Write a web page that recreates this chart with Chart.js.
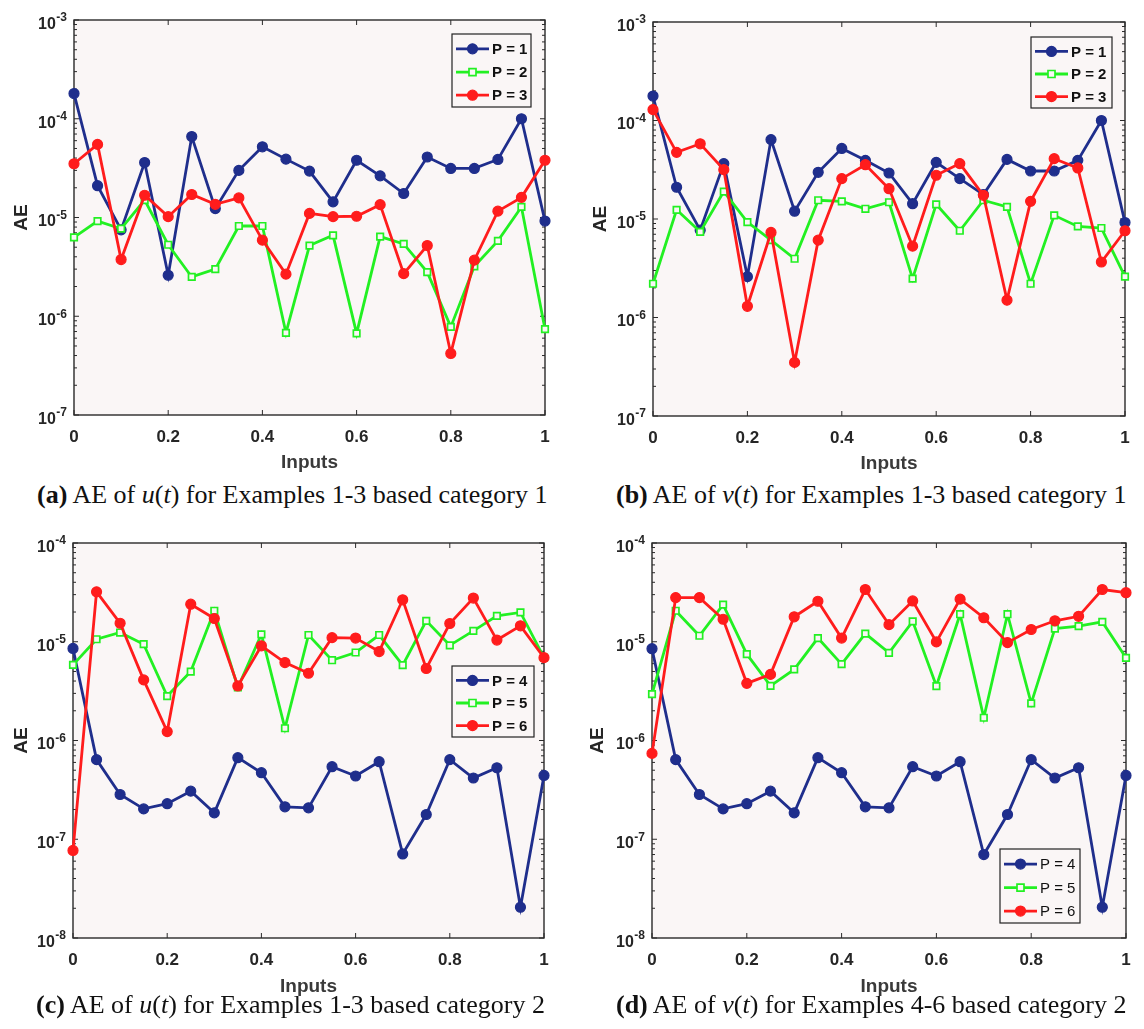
<!DOCTYPE html>
<html><head><meta charset="utf-8">
<script src="https://cdn.jsdelivr.net/npm/chart.js@4.4.1/dist/chart.umd.min.js"></script>
<style>
html,body{margin:0;padding:0;background:#fff;width:1144px;height:1029px;overflow:hidden;}
.panel{position:absolute;}
.cap{position:absolute;font-family:'Liberation Serif','Times New Roman',serif;font-size:26px;line-height:26px;color:#111;white-space:nowrap;}
</style></head><body>
<div class="panel" style="left:0;top:0;width:572px;height:475px"><canvas id="ca" width="572" height="475"></canvas></div>
<div class="panel" style="left:572px;top:0;width:572px;height:475px"><canvas id="cb" width="572" height="475"></canvas></div>
<div class="panel" style="left:0;top:520px;width:572px;height:480px"><canvas id="cc" width="572" height="480"></canvas></div>
<div class="panel" style="left:572px;top:520px;width:572px;height:480px"><canvas id="cd" width="572" height="480"></canvas></div>
<div class="cap" style="left:37px;top:482px"><b>(a)</b> AE of <i>u</i>(<i>t</i>) for Examples 1-3 based category 1</div>
<div class="cap" style="left:616px;top:482px"><b>(b)</b> AE of <i>v</i>(<i>t</i>) for Examples 1-3 based category 1</div>
<div class="cap" style="left:36px;top:992px"><b>(c)</b> AE of <i>u</i>(<i>t</i>) for Examples 1-3 based category 2</div>
<div class="cap" style="left:616px;top:992px"><b>(d)</b> AE of <i>v</i>(<i>t</i>) for Examples 4-6 based category 2</div>
<script>
// ---------- data ----------
const inputs = [0,0.05,0.1,0.15,0.2,0.25,0.3,0.35,0.4,0.45,0.5,0.55,0.6,0.65,0.7,0.75,0.8,0.85,0.9,0.95,1];
const xTickValues = [0,0.2,0.4,0.6,0.8,1];
const xTickLabels = ['0','0.2','0.4','0.6','0.8','1'];
const yExpTop = [-7,-6,-5,-4,-3];
const yExpBottom = [-8,-7,-6,-5,-4];
const legendTop = ['P = 1','P = 2','P = 3'];
const legendBottom = ['P = 4','P = 5','P = 6'];

// (a) AE of u(t), category 1
const aeU_P1 = [1.8e-4,2.1e-5,7.5e-6,3.6e-5,2.6e-6,6.6e-5,1.23e-5,3.0e-5,5.2e-5,3.9e-5,2.95e-5,1.44e-5,3.8e-5,2.64e-5,1.75e-5,4.1e-5,3.14e-5,3.14e-5,3.87e-5,1.0e-4,9.2e-6];
const aeU_P2 = [6.3e-6,9.2e-6,7.7e-6,1.5e-5,5.3e-6,2.5e-6,3.0e-6,8.2e-6,8.2e-6,6.8e-7,5.2e-6,6.6e-6,6.7e-7,6.4e-6,5.4e-6,2.8e-6,7.8e-7,3.2e-6,5.8e-6,1.28e-5,7.4e-7];
const aeU_P3 = [3.5e-5,5.5e-5,3.75e-6,1.68e-5,1.02e-5,1.71e-5,1.36e-5,1.58e-5,5.9e-6,2.67e-6,1.1e-5,1.02e-5,1.03e-5,1.35e-5,2.7e-6,5.2e-6,4.2e-7,3.7e-6,1.16e-5,1.6e-5,3.8e-5];
// (b) AE of v(t), category 1
const aeV_P1 = [1.77e-4,2.1e-5,7.7e-6,3.65e-5,2.6e-6,6.4e-5,1.2e-5,2.98e-5,5.2e-5,3.94e-5,2.93e-5,1.43e-5,3.76e-5,2.57e-5,1.77e-5,4.03e-5,3.07e-5,3.07e-5,3.94e-5,1.0e-4,9.2e-6];
const aeV_P2 = [2.2e-6,1.24e-5,7.4e-6,1.9e-5,9.3e-6,6.1e-6,3.95e-6,1.55e-5,1.51e-5,1.27e-5,1.48e-5,2.48e-6,1.41e-5,7.6e-6,1.55e-5,1.33e-5,2.2e-6,1.09e-5,8.4e-6,8.1e-6,2.6e-6];
const aeV_P3 = [1.29e-4,4.75e-5,5.8e-5,3.17e-5,1.3e-6,7.3e-6,3.5e-7,6.1e-6,2.57e-5,3.56e-5,2.03e-5,5.3e-6,2.78e-5,3.65e-5,1.74e-5,1.5e-6,1.51e-5,4.1e-5,3.3e-5,3.66e-6,7.6e-6];
// (c) AE of u(t), category 2
const aeU_P4 = [8.55e-6,6.4e-7,2.84e-7,2.03e-7,2.29e-7,3.07e-7,1.85e-7,6.7e-7,4.72e-7,2.13e-7,2.08e-7,5.43e-7,4.37e-7,6.1e-7,7.1e-8,1.78e-7,6.4e-7,4.17e-7,5.3e-7,2.05e-8,4.43e-7];
const aeU_P5 = [5.83e-6,1.06e-5,1.24e-5,9.45e-6,2.82e-6,4.99e-6,2.06e-5,3.44e-6,1.19e-5,1.33e-6,1.17e-5,6.5e-6,7.78e-6,1.17e-5,5.8e-6,1.63e-5,9.2e-6,1.29e-5,1.83e-5,1.98e-5,6.9e-6];
const aeU_P6 = [7.7e-8,3.2e-5,1.54e-5,4.11e-6,1.23e-6,2.4e-5,1.72e-5,3.57e-6,9.1e-6,6.16e-6,4.8e-6,1.1e-5,1.09e-5,7.96e-6,2.66e-5,5.36e-6,1.53e-5,2.77e-5,1.04e-5,1.45e-5,6.9e-6];
// (d) AE of v(t), category 2
const aeV_P4 = [8.5e-6,6.4e-7,2.84e-7,2.03e-7,2.29e-7,3.07e-7,1.85e-7,6.7e-7,4.72e-7,2.13e-7,2.08e-7,5.43e-7,4.37e-7,6.1e-7,7.0e-8,1.78e-7,6.4e-7,4.17e-7,5.3e-7,2.05e-8,4.43e-7];
const aeV_P5 = [2.95e-6,2.06e-5,1.15e-5,2.38e-5,7.48e-6,3.58e-6,5.24e-6,1.09e-5,5.93e-6,1.21e-5,7.72e-6,1.61e-5,3.56e-6,1.9e-5,1.7e-6,1.9e-5,2.38e-6,1.36e-5,1.44e-5,1.59e-5,6.87e-6];
const aeV_P6 = [7.4e-7,2.8e-5,2.8e-5,1.69e-5,3.79e-6,4.67e-6,1.79e-5,2.57e-5,1.09e-5,3.38e-5,1.49e-5,2.59e-5,9.97e-6,2.7e-5,1.75e-5,9.8e-6,1.33e-5,1.63e-5,1.81e-5,3.38e-5,3.14e-5];

// ---------- styles ----------
const BLUE = '#1f2e8c', GREEN = '#22f022', RED = '#ff1c1c', BG = '#faf6f6', AXIS = '#2a2a2a';
const SANS = "'Liberation Sans', Arial, sans-serif";

function makeSets(values, labels) {
  const styles = [
    {c: BLUE, ps: 'circle', r: 5, bg: BLUE, bw: 1.2, order: 3},
    {c: GREEN, ps: 'rect', r: 4.6, bg: BG, bw: 1.7, order: 2},
    {c: RED, ps: 'circle', r: 5, bg: RED, bw: 1.2, order: 1}
  ];
  return values.map((vals, k) => ({
    label: labels[k],
    data: vals.map((v, i) => ({x: inputs[i], y: v})),
    borderColor: styles[k].c,
    backgroundColor: styles[k].bg,
    pointBackgroundColor: styles[k].bg,
    pointBorderColor: styles[k].c,
    pointStyle: styles[k].ps,
    pointRadius: styles[k].r,
    pointBorderWidth: styles[k].bw,
    borderWidth: 2.8,
    tension: 0,
    clip: false,
    order: styles[k].order
  }));
}

const panels = [
  {id:'ca', x:0, y:0, w:572, h:475, area:[74,20,545,415], aeX:22, inputsY:463, exps:yExpTop,
   sets:[aeU_P1,aeU_P2,aeU_P3], labels:legendTop, legend:[452,34,531,107], legendBold:true},
  {id:'cb', x:572, y:0, w:572, h:475, area:[653,22,1125,416], aeX:601, inputsY:464, exps:yExpTop,
   sets:[aeV_P1,aeV_P2,aeV_P3], labels:legendTop, legend:[1031,37,1112,108], legendBold:true},
  {id:'cc', x:0, y:520, w:572, h:480, area:[73,543,544,938], aeX:22, inputsY:988, exps:yExpBottom,
   sets:[aeU_P4,aeU_P5,aeU_P6], labels:legendBottom, legend:[452,666,534,737], legendBold:true},
  {id:'cd', x:572, y:520, w:572, h:480, area:[652,543,1126,938], aeX:598, inputsY:988, exps:yExpBottom,
   sets:[aeV_P4,aeV_P5,aeV_P6], labels:legendBottom, legend:[1000,849,1080,923], legendBold:false}
];

const matlabAxes = {
  id: 'matlabAxes',
  beforeDraw(chart, args, o) {
    const {ctx, chartArea: a} = chart;
    ctx.save();
    ctx.fillStyle = BG;
    ctx.fillRect(a.left, a.top, a.right - a.left, a.bottom - a.top);
    ctx.restore();
  },
  beforeDatasetsDraw(chart, args, o) {
    const {ctx, chartArea: a} = chart;
    const xs = chart.scales.x, ys = chart.scales.y;
    ctx.save();
    ctx.strokeStyle = AXIS;
    ctx.lineWidth = 1.4;
    ctx.strokeRect(a.left, a.top, a.right - a.left, a.bottom - a.top);
    ctx.lineWidth = 1;
    ctx.beginPath();
    xTickValues.forEach(v => {
      const px = xs.getPixelForValue(v);
      ctx.moveTo(px, a.bottom); ctx.lineTo(px, a.bottom - 5);
      ctx.moveTo(px, a.top); ctx.lineTo(px, a.top + 5);
    });
    const exps = o.exps;
    for (let e = exps[0]; e <= exps[exps.length - 1]; e++) {
      for (let m = 1; m <= 9; m++) {
        if (e === exps[exps.length - 1] && m > 1) break;
        const py = ys.getPixelForValue(m * Math.pow(10, e));
        const len = m === 1 ? 5 : 3;
        ctx.moveTo(a.left, py); ctx.lineTo(a.left + len, py);
        ctx.moveTo(a.right, py); ctx.lineTo(a.right - len, py);
      }
    }
    ctx.stroke();
    // y tick labels 10^e
    ctx.fillStyle = '#262626';
    ctx.textBaseline = 'middle';
    exps.forEach(e => {
      const py = ys.getPixelForValue(Math.pow(10, e));
      const expTxt = '-' + Math.abs(e);
      ctx.font = 'bold 12px ' + SANS;
      const ew = ctx.measureText(expTxt).width;
      const right = a.left - 7;
      ctx.textAlign = 'left';
      ctx.fillText(expTxt, right - ew, py - 2);
      ctx.font = 'bold 16px ' + SANS;
      ctx.textAlign = 'right';
      ctx.fillText('10', right - ew - 0.5, py + 4.5);
    });
    ctx.restore();
  },
  afterDatasetsDraw(chart, args, o) {
    const {ctx} = chart;
    const [l, t, r, b] = o.legend;
    ctx.save();
    ctx.fillStyle = BG;
    ctx.fillRect(l, t, r - l, b - t);
    ctx.strokeStyle = '#222';
    ctx.lineWidth = 1.2;
    ctx.strokeRect(l, t, r - l, b - t);
    const rowH = (b - t) / 3.15;
    chart.data.datasets.forEach((ds, k) => {
      const cy = t + rowH * 0.62 + rowH * k + 0.5;
      ctx.strokeStyle = ds.borderColor;
      ctx.lineWidth = 2.8;
      ctx.beginPath(); ctx.moveTo(l + 4, cy); ctx.lineTo(l + 37, cy); ctx.stroke();
      ctx.fillStyle = ds.pointBackgroundColor; ctx.strokeStyle = ds.pointBorderColor; ctx.lineWidth = ds.pointBorderWidth;
      ctx.beginPath();
      if (ds.pointStyle === 'rect') { ctx.rect(l + 20.5 - 3.5, cy - 3.5, 7, 7); }
      else { ctx.arc(l + 20.5, cy, 5, 0, Math.PI * 2); }
      ctx.fill(); ctx.stroke();
      ctx.fillStyle = '#111';
      ctx.font = (o.legendBold ? 'bold ' : '') + '15px ' + SANS;
      ctx.textAlign = 'left';
      ctx.textBaseline = 'middle';
      ctx.fillText(ds.label, l + 40, cy + 1);
    });
    ctx.restore();
  }
};

panels.forEach(p => {
  const [al, at, ar, ab] = p.area;
  const yW = al - p.x;
  const xH = 60;
  const padTop = at - p.y;
  const padRight = p.x + p.w - ar;
  const padBottom = p.y + p.h - ab - xH;
  const aeFont = 19, aeLH = aeFont * 1.2;
  const inFont = 19, inLH = inFont * 1.2;
  new Chart(document.getElementById(p.id), {
    type: 'line',
    data: {datasets: makeSets(p.sets, p.labels)},
    plugins: [matlabAxes],
    options: {
      responsive: false,
      animation: false,
      events: [],
      layout: {padding: {left: 0, top: padTop, right: padRight, bottom: padBottom}},
      plugins: {
        legend: {display: false},
        tooltip: {enabled: false},
        matlabAxes: {
          exps: p.exps,
          legend: [p.legend[0] - p.x, p.legend[1] - p.y, p.legend[2] - p.x, p.legend[3] - p.y],
          legendBold: p.legendBold
        }
      },
      scales: {
        x: {
          type: 'linear', min: 0, max: 1,
          afterBuildTicks: s => { s.ticks = xTickValues.map(v => ({value: v})); },
          afterFit: s => { s.height = xH; },
          grid: {display: false, drawTicks: false},
          border: {display: false},
          ticks: {
            padding: 12, color: '#262626', font: {family: SANS, size: 17, weight: 'bold'},
            maxRotation: 0, autoSkip: false,
            callback: (v) => xTickLabels[xTickValues.indexOf(v)]
          },
          title: {display: true, text: 'Inputs', color: '#3a3a3a',
            font: {family: SANS, size: inFont, weight: 'bold'},
            padding: {top: 0, bottom: Math.max(0, ab + xH - inLH / 2 - p.inputsY)}}
        },
        y: {
          type: 'logarithmic',
          min: Math.pow(10, p.exps[0]), max: Math.pow(10, p.exps[p.exps.length - 1]),
          afterFit: s => { s.width = yW; },
          grid: {display: false, drawTicks: false},
          border: {display: false},
          ticks: {display: false},
          title: {display: true, text: 'AE', color: '#262626',
            font: {family: SANS, size: aeFont, weight: 'bold'},
            padding: {top: p.aeX - p.x - aeLH / 2, bottom: 0}}
        }
      }
    }
  });
});
</script>
</body></html>
